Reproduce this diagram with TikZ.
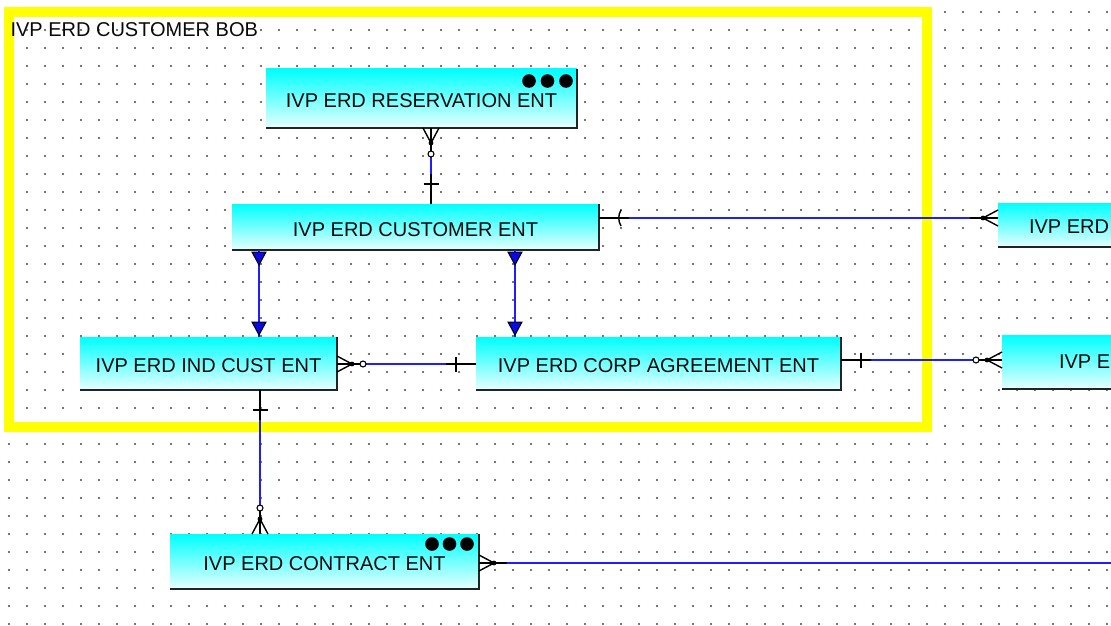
\documentclass[tikz,border=0pt]{standalone}
\usepackage{fontspec}
\setmainfont{Liberation Sans}
\usetikzlibrary{calc}
\definecolor{cyTop}{RGB}{0,255,255}
\definecolor{cyBot}{RGB}{232,255,255}
\definecolor{relblue}{RGB}{30,30,255}
\definecolor{triblue}{RGB}{10,10,230}
\definecolor{gridc}{RGB}{70,70,70}
\definecolor{frameY}{RGB}{255,255,0}
\definecolor{txt}{RGB}{10,10,10}
\definecolor{eb}{RGB}{35,35,35}
\tikzset{
  entity/.style={shape=rectangle, inner sep=0pt, outer sep=0pt, top color=cyTop, bottom color=cyBot, draw=none,
    font=\fontsize{20}{23}\selectfont, text=txt, text height=18.5pt, text depth=0pt},
  ebord/.style={draw=eb, line width=2pt},
  lbl/.style={inner sep=0pt, outer sep=0pt, font=\fontsize{20}{23}\selectfont, text=txt},
  rel/.style={draw=relblue, line width=1.6pt},
  stub/.style={draw=black, line width=1.4pt},
  pics/zmany/.style={code={
    \draw[stub] (0,0) -- (29,0);
    \draw[stub] (0,-8) -- (15,0) -- (0,8);
    \fill[black] (15,0) circle[radius=2.4pt];
    \draw[stub, line width=1.1pt, fill=white] (26,0) circle[radius=3pt];
  }},
  pics/many/.style={code={
    \draw[stub] (0,0) -- (28,0);
    \draw[stub] (0,-8) -- (15,0) -- (0,8);
    \fill[black] (15,0) circle[radius=2.4pt];
  }},
  pics/one/.style={code={
    \draw[stub] (0,0) -- (30,0);
    \draw[stub] (20,-7.5) -- (20,7.5);
  }},
  pics/onecurve/.style={code={
    \draw[stub] (0,0) -- (30,0);
    \draw[stub] (22,-8) .. controls (19,-3) and (19,3) .. (22,8);
  }},
  pics/tri/.style={code={
    \draw[black, line width=1pt, fill=triblue] (0,0) -- (-13,-7) -- (-13,7) -- cycle;
  }},
}
\begin{document}
\begin{tikzpicture}[x=1pt,y=-1pt]
\useasboundingbox (0,0) rectangle (1111,626);
\clip (0,0) rectangle (1111,626);
\fill[white] (0,0) rectangle (1111,626);
% grid of dots
\foreach \i in {0,...,61}{\foreach \j in {0,...,34}{\fill[gridc] ({9+18*\i},{12+18*\j}) circle[radius=1.1pt];}}
% frame
\draw[frameY, line width=10pt] (9,12.5) rectangle (927,426.5);
\node[lbl, anchor=base west] (title) at (10.5,36.5) {IVP ERD CUSTOMER BOB};
% entities
\node[entity, minimum width=311pt, minimum height=59pt] (res) at (421.5,98.5) {IVP ERD RESERVATION ENT};
\node[entity, minimum width=367pt, minimum height=46pt] (cust) at (415.5,227) {IVP ERD CUSTOMER ENT};
\node[entity, minimum width=257pt, minimum height=53pt] (ind) at (208.5,363.5) {IVP ERD IND CUST ENT};
\node[entity, minimum width=365pt, minimum height=53pt] (corp) at (658.5,363.5) {IVP ERD CORP AGREEMENT ENT};
\node[entity, minimum width=309pt, minimum height=55pt] (con) at (324.5,561.5) {IVP ERD CONTRACT ENT};
\node[entity, minimum width=144pt, minimum height=44pt] (tr) at (1070,225) {};
\node[entity, minimum width=140pt, minimum height=54pt] (mr) at (1072,362) {};
\node[lbl, anchor=base west] (trt) at (1029,233.5) {IVP ERD};
\node[lbl, anchor=base west] (mrt) at (1059,368.5) {IVP E};
\foreach \n in {res,cust,ind,corp,con}{\draw[ebord] (\n.north east) -- (\n.south east) -- (\n.south west);}
\draw[ebord] (tr.south west) -- (tr.south east);
\draw[ebord] (mr.south west) -- (mr.south east);
% three dots
\foreach \x in {529,547.5,566}{\fill[black] (\x,81) circle[radius=6.8pt];}
\foreach \x in {432,449.5,467}{\fill[black] (\x,544) circle[radius=6.8pt];}
% connector coordinates
\coordinate (c1) at (431,0);
\coordinate (c2) at (0,218);
\coordinate (c3) at (259,0);
\coordinate (c4) at (515,0);
\coordinate (c5) at (0,364);
\coordinate (c6) at (0,360);
\coordinate (c7) at (260,0);
\coordinate (c8) at (1111,563);
% reservation - customer
\draw[rel] (res.south -| c1) -- (cust.north -| c1);
\pic[rotate=-90] at (res.south -| c1) {zmany};
\pic[rotate=90] at (cust.north -| c1) {one};
% customer - top right
\draw[rel] (cust.east |- c2) -- (tr.west |- c2);
\pic at (cust.east |- c2) {onecurve};
\pic[rotate=180] at (tr.west |- c2) {many};
% customer - ind / corp (subtypes)
\draw[rel] (cust.south -| c3) -- (ind.north -| c3);
\pic[rotate=-90] at ($(cust.south -| c3)+(0,15)$) {tri};
\pic[rotate=-90] at ($(ind.north -| c3)+(0,-2)$) {tri};
\draw[rel] (cust.south -| c4) -- (corp.north -| c4);
\pic[rotate=-90] at ($(cust.south -| c4)+(0,15)$) {tri};
\pic[rotate=-90] at ($(corp.north -| c4)+(0,-2)$) {tri};
% ind - corp
\draw[rel] (ind.east |- c5) -- (corp.west |- c5);
\pic at (ind.east |- c5) {zmany};
\pic[rotate=180] at (corp.west |- c5) {one};
% corp - middle right
\draw[rel] (corp.east |- c6) -- (mr.west |- c6);
\pic at (corp.east |- c6) {one};
\pic[rotate=180] at (mr.west |- c6) {zmany};
% ind - contract
\draw[rel] (ind.south -| c7) -- (con.north -| c7);
\pic[rotate=-90] at (ind.south -| c7) {one};
\pic[rotate=90] at (con.north -| c7) {zmany};
% contract - right edge
\draw[rel] (con.east |- c8) -- (c8);
\pic at (con.east |- c8) {many};
\end{tikzpicture}
\end{document}
